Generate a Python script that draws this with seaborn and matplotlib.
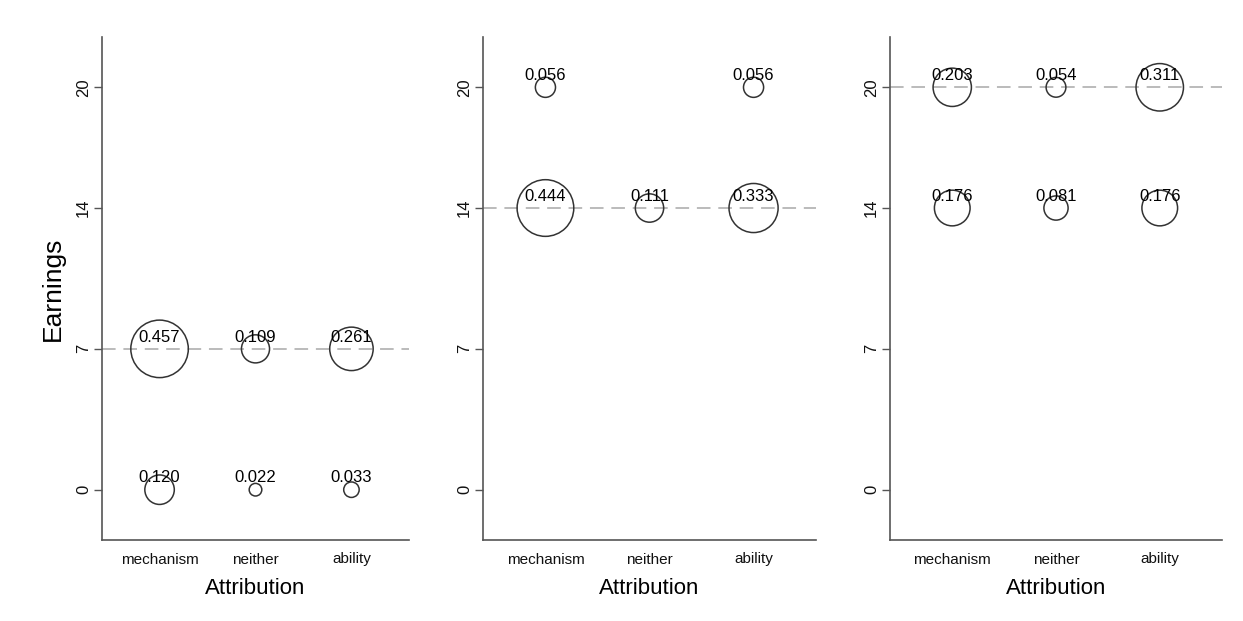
import matplotlib
matplotlib.use("Agg")
import matplotlib.pyplot as plt
import seaborn as sns
import pandas as pd

categories = ["mechanism", "neither", "ability"]

# Panel 1
p1_earn = [0, 0, 0, 7, 7, 7]
p1_attr = ["mechanism", "neither", "ability", "mechanism", "neither", "ability"]
p1_share = [0.120, 0.022, 0.033, 0.457, 0.109, 0.261]
p1_ref = 7

# Panel 2
p2_earn = [20, 20, 14, 14, 14]
p2_attr = ["mechanism", "ability", "mechanism", "neither", "ability"]
p2_share = [0.056, 0.056, 0.444, 0.111, 0.333]
p2_ref = 14

# Panel 3
p3_earn = [20, 20, 20, 14, 14, 14]
p3_attr = ["mechanism", "neither", "ability", "mechanism", "neither", "ability"]
p3_share = [0.203, 0.054, 0.311, 0.176, 0.081, 0.176]
p3_ref = 20

y_ticks = [0, 7, 14, 20]

sns.set_style("white")
plt.rcParams["font.family"] = ["Liberation Sans", "DejaVu Sans"]

fig = plt.figure(figsize=(12.43, 6.21), dpi=100)
W, H = 1243, 621
rects = [(102, 409), (483, 816), (890, 1222)]
top, bottom = 37, 540

panels = [(p1_earn, p1_attr, p1_share, p1_ref),
          (p2_earn, p2_attr, p2_share, p2_ref),
          (p3_earn, p3_attr, p3_share, p3_ref)]

spine_col = "#555555"
for i, ((l, r), (earn, attr, share, ref)) in enumerate(zip(rects, panels)):
    ax = fig.add_axes([l / W, 1 - bottom / H, (r - l) / W, (bottom - top) / H])
    df = pd.DataFrame({"Attribution": pd.Categorical(attr, categories=categories),
                       "Earnings": earn, "share": share})
    df["xpos"] = df["Attribution"].cat.codes
    ax.axhline(ref, color="#bbbbbb", linestyle=(0, (7, 4)), linewidth=1.4, zorder=1)
    sns.scatterplot(data=df, x="xpos", y="Earnings", size="share",
                    sizes=(0, 3750), size_norm=(0, 1), legend=False,
                    facecolor="none", edgecolor="#333333", linewidth=1.1,
                    ax=ax, zorder=3)
    for _, row in df.iterrows():
        ax.annotate(f"{row['share']:.3f}", (row["xpos"], row["Earnings"]),
                    xytext=(0, 8.5), textcoords="offset points",
                    ha="center", va="center", fontsize=12, color="#000000", zorder=4)
    ax.set_xlim(-0.6, 2.6)
    ax.set_ylim(-2.5, 22.5)
    ax.set_xticks(range(len(categories)))
    ax.set_xticklabels(categories, fontsize=11, color="#111111")
    ax.set_yticks(y_ticks)
    ax.set_yticklabels([str(t) for t in y_ticks], rotation=90, va="center",
                       fontsize=12, color="#111111")
    ax.tick_params(axis="x", length=0, pad=9)
    ax.tick_params(axis="y", length=6, width=1, color=spine_col, pad=2, left=True)
    for s in ["top", "right"]:
        ax.spines[s].set_visible(False)
    for s in ["left", "bottom"]:
        ax.spines[s].set_color(spine_col)
        ax.spines[s].set_linewidth(1.2)
    ax.set_xlabel("Attribution", fontsize=16, labelpad=8, color="#000000")
    if i == 0:
        ax.set_ylabel("Earnings", fontsize=19, labelpad=8, color="#000000")
    else:
        ax.set_ylabel("")
    ax.set_facecolor("white")

fig.savefig("out.png", dpi=100, facecolor="white")
